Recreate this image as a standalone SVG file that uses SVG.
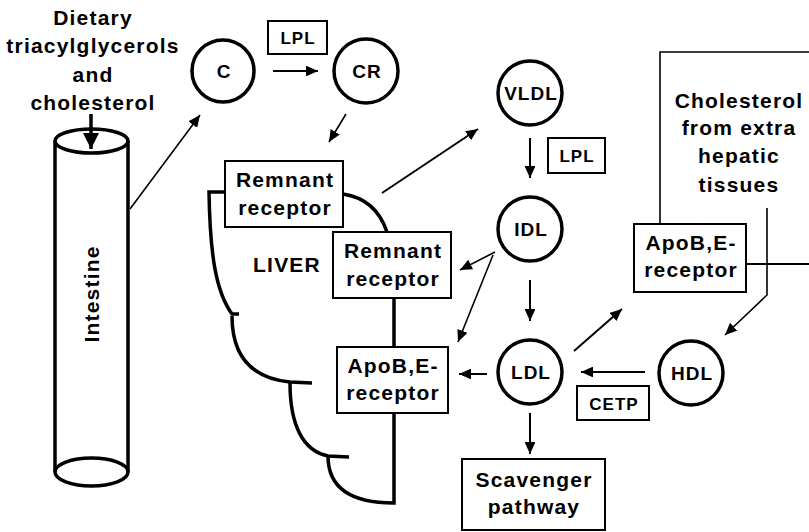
<svg xmlns="http://www.w3.org/2000/svg" width="809" height="532" viewBox="0 0 809 532">
<style>
text{font-family:"Liberation Sans",Arial,sans-serif;font-weight:bold;fill:#000;text-anchor:middle}
.t{font-size:21px;letter-spacing:1.2px}
.s{font-size:17px;letter-spacing:1px}
.c{font-size:19px;letter-spacing:1px}
.box{fill:#fff;stroke:#000;stroke-width:2}
.circ{fill:#fff;stroke:#000;stroke-width:3.5}
.ln{fill:none;stroke:#000;stroke-width:2}
.thin{fill:none;stroke:#000;stroke-width:1.6}
.thick{fill:none;stroke:#000;stroke-width:3.5}
</style>
<defs>
<marker id="ar" viewBox="0 0 10 9" refX="10" refY="4.5" markerWidth="12" markerHeight="10.8" markerUnits="userSpaceOnUse" orient="auto"><path d="M0,0 L10,4.5 L0,9 Z" fill="#000"/></marker>
<marker id="big" viewBox="0 0 10 10" refX="10" refY="5" markerWidth="16" markerHeight="18" markerUnits="userSpaceOnUse" orient="auto"><path d="M0,0 L10,5 L0,10 Z" fill="#000"/></marker>
</defs>
<rect width="809" height="532" fill="#fff"/>

<g id="diet">
<text class="t" x="93" y="25">Dietary</text>
<text class="t" x="93" y="53">triacylglycerols</text>
<text class="t" x="93" y="82">and</text>
<text class="t" x="93" y="110">cholesterol</text>
</g>

<g id="intestine">
<line class="thick" x1="55" y1="141" x2="55" y2="472"/>
<line class="thick" x1="128" y1="141" x2="128" y2="472"/>
<ellipse class="thick" cx="91.5" cy="141" rx="36.5" ry="12"/>
<ellipse class="thick" cx="91.5" cy="472" rx="36.5" ry="14"/>
<text class="t" transform="translate(99,294) rotate(-90)">Intestine</text>
</g>

<g id="liver">
<path class="thick" d="M225 192 H209 C210 255 216 292 232 314 L239 314"/>
<path class="thick" d="M232 316 C232 355 250 378 290 382 L312 383"/>
<path class="thick" d="M290 383 C290 425 303 451 328 456 L349 457"/>
<path class="thick" d="M328 456 C328 487 350 503 394 503 V413"/>
<path class="thick" d="M394 347 V298"/>
<path class="thick" d="M343 194 Q376 199 387 232"/>
<text class="t" x="287" y="272">LIVER</text>
</g>

<g id="C"><circle class="circ" cx="223" cy="71" r="31"/><text class="c" x="224" y="78">C</text></g>
<g id="CR"><circle class="circ" cx="366" cy="71" r="32"/><text class="c" x="367" y="78">CR</text></g>
<g id="VLDL"><circle class="circ" cx="530" cy="93" r="32"/><text class="c" x="531" y="100">VLDL</text></g>
<g id="IDL"><circle class="circ" cx="530" cy="229" r="32"/><text class="c" x="531" y="236">IDL</text></g>
<g id="LDL"><circle class="circ" cx="530" cy="372" r="32"/><text class="c" x="531" y="379">LDL</text></g>
<g id="HDL"><circle class="circ" cx="691" cy="373" r="32"/><text class="c" x="692" y="380">HDL</text></g>

<g id="lpl1"><rect class="box" x="268" y="21" width="59" height="33"/><text class="s" x="298" y="44">LPL</text></g>
<g id="lpl2"><rect class="box" x="548" y="138" width="57" height="35"/><text class="s" x="577" y="162">LPL</text></g>
<g id="cetp"><rect class="box" x="577" y="386" width="72" height="34"/><text class="s" x="614" y="410">CETP</text></g>

<g id="remnant1"><rect class="box" x="225" y="161" width="118" height="66"/><text class="t" x="285" y="187">Remnant</text><text class="t" x="285" y="215">receptor</text></g>
<g id="remnant2"><rect class="box" x="333" y="232" width="118" height="66"/><text class="t" x="393" y="258">Remnant</text><text class="t" x="393" y="286">receptor</text></g>
<g id="apob1"><rect class="box" x="337" y="347" width="111" height="66"/><text class="t" x="393" y="373">ApoB,E-</text><text class="t" x="393" y="400">receptor</text></g>
<g id="apob2"><rect class="box" x="634" y="224" width="112" height="68"/><text class="t" x="691" y="250">ApoB,E-</text><text class="t" x="691" y="277">receptor</text></g>
<g id="scavenger"><rect class="box" x="462" y="459" width="143" height="71"/><text class="t" x="534" y="487">Scavenger</text><text class="t" x="534" y="514">pathway</text></g>

<g id="extrahepatic">
<text class="t" x="739" y="108">Cholesterol</text>
<text class="t" x="739" y="135">from extra</text>
<text class="t" x="739" y="163">hepatic</text>
<text class="t" x="739" y="192">tissues</text>
</g>

<g id="connectors">
<line class="thick" x1="91" y1="114" x2="91" y2="149" marker-end="url(#big)"/>
<line class="thin" x1="130" y1="209" x2="200" y2="115" marker-end="url(#ar)"/>
<line class="ln" x1="273" y1="71" x2="318" y2="71" marker-end="url(#ar)"/>
<line class="thin" x1="346" y1="114" x2="329" y2="142" marker-end="url(#ar)"/>
<line class="ln" x1="382" y1="193" x2="478" y2="129" marker-end="url(#ar)"/>
<line class="ln" x1="530" y1="138" x2="530" y2="178" marker-end="url(#ar)"/>
<line class="thin" x1="495" y1="252" x2="460" y2="270" marker-end="url(#ar)"/>
<line class="thin" x1="493" y1="255" x2="458" y2="342" marker-end="url(#ar)"/>
<line class="ln" x1="530" y1="280" x2="530" y2="321" marker-end="url(#ar)"/>
<line class="ln" x1="487" y1="374" x2="459" y2="374" marker-end="url(#ar)"/>
<line class="ln" x1="530" y1="413" x2="530" y2="454" marker-end="url(#ar)"/>
<line class="ln" x1="574" y1="351" x2="622" y2="309" marker-end="url(#ar)"/>
<line class="ln" x1="645" y1="372" x2="581" y2="372" marker-end="url(#ar)"/>
<polyline class="thin" points="660,224 660,52 809,52"/>
<line class="ln" x1="746" y1="264" x2="809" y2="264"/>
<polyline class="thin" points="767,208 767,295 725,335" marker-end="url(#ar)"/>
</g>
</svg>
